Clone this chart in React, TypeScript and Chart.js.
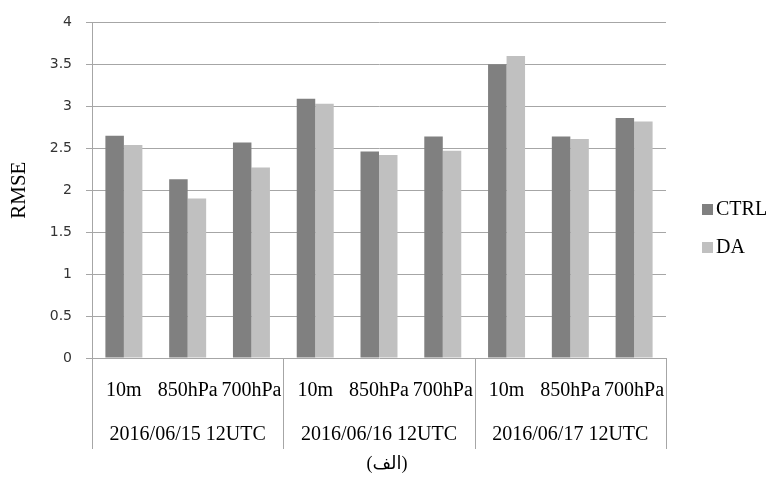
import React, { useEffect, useRef } from "react";
import { Chart, registerables } from "chart.js";

Chart.register(...registerables);

const subLabels = ["10m", "850hPa", "700hPa", "10m", "850hPa", "700hPa", "10m", "850hPa", "700hPa"];
const groupLabels = ["2016/06/15 12UTC", "2016/06/16 12UTC", "2016/06/17 12UTC"];
const ctrlValues = [2.65, 2.13, 2.57, 3.09, 2.46, 2.64, 3.5, 2.64, 2.86];
const daValues = [2.54, 1.9, 2.27, 3.03, 2.42, 2.47, 3.6, 2.61, 2.82];
const seriesNames = ["CTRL", "DA"];
const seriesColors = ["#808080", "#c0c0c0"];
const yTitle = "RMSE";
const caption = "(الف)";

const SERIF = "'Liberation Serif', 'Times New Roman', serif";
const LINE = "#a6a6a6";

const extrasPlugin = {
  id: "extras",
  afterDraw(chart: any) {
    const ctx = chart.ctx;
    const x = chart.scales.x;
    const area = chart.chartArea;
    const bottom = area.bottom + 91;
    ctx.save();
    ctx.strokeStyle = LINE;
    ctx.lineWidth = 1;
    const per = subLabels.length / groupLabels.length;
    for (let g = 0; g <= groupLabels.length; g++) {
      let px: number;
      if (g === 0) px = area.left;
      else if (g === groupLabels.length) px = area.right;
      else px = (x.getPixelForValue(g * per - 1) + x.getPixelForValue(g * per)) / 2;
      px = Math.round(px) + 0.5;
      ctx.beginPath();
      ctx.moveTo(px, area.bottom);
      ctx.lineTo(px, bottom);
      ctx.stroke();
    }
    ctx.fillStyle = "#000";
    ctx.textAlign = "center";
    ctx.textBaseline = "middle";
    ctx.font = `20px ${SERIF}`;
    subLabels.forEach((l, i) => {
      ctx.fillText(l, x.getPixelForValue(i), area.bottom + 33);
    });
    groupLabels.forEach((l, g) => {
      const c = (x.getPixelForValue(g * per) + x.getPixelForValue(g * per + per - 1)) / 2;
      ctx.fillText(l, c, area.bottom + 77);
    });
    ctx.textAlign = "left";
    ctx.font = `20px ${SERIF}`;
    const legY = [209, 247];
    seriesNames.forEach((n, i) => {
      ctx.fillStyle = seriesColors[i];
      ctx.fillRect(702, legY[i] - 5, 11, 11);
      ctx.fillStyle = "#000";
      ctx.fillText(n, 716, legY[i] + 1);
    });
    ctx.textAlign = "center";
    ctx.font = `18px ${SERIF}, 'DejaVu Sans'`;
    ctx.fillText(caption, 387, 464);
    ctx.restore();
  },
};

export default function App() {
  const ref = useRef<HTMLCanvasElement | null>(null);
  useEffect(() => {
    if (!ref.current) return;
    const chart = new Chart(ref.current, {
      type: "bar",
      data: {
        labels: subLabels,
        datasets: [
          { label: seriesNames[0], data: ctrlValues, backgroundColor: seriesColors[0], borderWidth: 0 },
          { label: seriesNames[1], data: daValues, backgroundColor: seriesColors[1], borderWidth: 0 },
        ],
      },
      options: {
        animation: false,
        responsive: false,
        devicePixelRatio: 1,
        layout: { padding: { top: 19, bottom: 119, right: 110, left: 0 } },
        datasets: { bar: { categoryPercentage: 0.58, barPercentage: 1 } },
        plugins: { legend: { display: false }, tooltip: { enabled: false } },
        scales: {
          x: { display: false },
          y: {
            min: 0,
            max: 4,
            afterFit: (s: any) => {
              s.width = 92;
            },
            ticks: {
              stepSize: 0.5,
              padding: 14,
              color: "#333",
              font: { family: "'DejaVu Sans', sans-serif", size: 14 },
              callback: (v: any) => String(v),
            },
            grid: { color: LINE, tickLength: 6, lineWidth: 1 },
            border: { display: true, color: LINE },
            title: {
              display: true,
              text: yTitle,
              color: "#000",
              font: { family: SERIF, size: 21 },
              padding: { top: 7, bottom: 0 },
            },
          },
        },
      },
      plugins: [extrasPlugin],
    });
    return () => chart.destroy();
  }, []);
  return (
    <div style={{ position: "absolute", left: 0, top: 0, width: 776, height: 477, background: "#fff" }}>
      <canvas ref={ref} width={776} height={477} />
    </div>
  );
}
